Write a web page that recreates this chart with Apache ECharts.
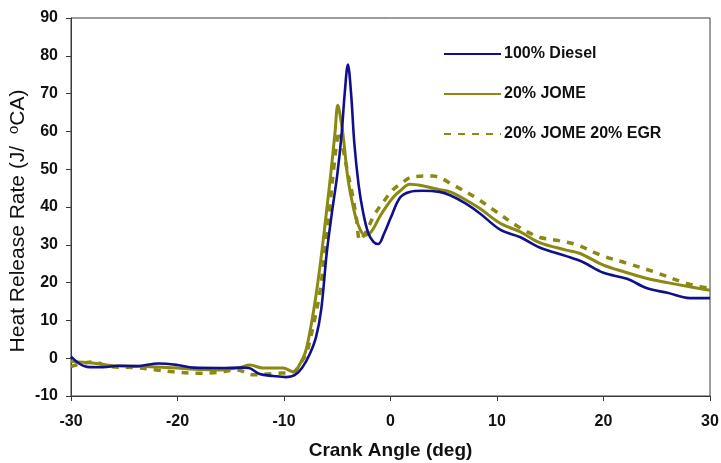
<!DOCTYPE html>
<html>
<head>
<meta charset="utf-8">
<script src="https://cdn.jsdelivr.net/npm/echarts@6/dist/echarts.min.js"></script>
<style>
  html, body { margin: 0; padding: 0; background: #fff; }
  #chart { width: 721px; height: 463px; }
</style>
</head>
<body>
<div id="chart"></div>
<script>
// Crank angle (deg) and heat release rate (J/°CA) for each fuel case
const dieselAngle = [-30, -28.5, -27, -25.5, -23.8, -21.8, -20, -18.5, -16, -14, -13.3, -12.3, -11, -9.8, -9, -8.3, -7.6, -7.0, -6.5, -6.0, -5.5, -5.0, -4.6, -4.3, -4.0, -3.7, -3.4, -3.0, -2.6, -2.1, -1.6, -1.15, -0.6, 0, 0.9, 1.8, 3, 4.6, 5.6, 7, 8.4, 10.3, 12.2, 14, 16.5, 18, 20, 22.2, 24.1, 26, 28.1, 30];
const dieselHRR   = [0.4, -2.3, -2.4, -2.0, -2.1, -1.4, -1.8, -2.5, -2.6, -2.5, -2.6, -4.2, -4.7, -5.0, -4.5, -2.5, 1.0, 5.5, 13, 27.5, 38.5, 48.5, 59, 70, 77.7, 70, 57, 46, 39, 33.2, 30.8, 30.2, 33, 37, 42.5, 44, 44.3, 44, 43.1, 41, 38.3, 34, 32, 29.3, 27, 25.5, 22.6, 21, 18.5, 17.3, 15.9, 15.9];

const jomeAngle = [-30, -28, -26, -24, -22, -20, -18.5, -16, -14.2, -13.2, -12, -10.1, -9.1, -8.5, -8.0, -7.5, -7.0, -6.5, -6.0, -5.6, -5.2, -4.95, -4.6, -4.4, -4.0, -3.5, -3.0, -2.4, -1.8, -1.0, -0.3, 0.3, 1.0, 1.8, 3, 4.6, 5.6, 7, 8.4, 10.3, 12.2, 14, 16.5, 17.8, 20, 22, 24.1, 26, 28.1, 30];
const jomeHRR   = [-0.9, -1.3, -2.0, -2.1, -2.3, -2.6, -2.9, -3.1, -2.5, -1.8, -2.6, -2.6, -3.6, -1.5, 1.5, 8, 16.5, 27, 39, 49, 60, 66.9, 62, 57.7, 47.5, 40, 35, 32.5, 33.5, 37.5, 40.5, 42.7, 44.5, 46.0, 45.6, 44.6, 44, 42, 39.6, 35.7, 33.4, 30.6, 28.6, 27.7, 24.6, 22.8, 21.1, 20, 18.9, 18.0];

const egrAngle = [-30, -28, -26.3, -24, -22, -20.4, -18.2, -16.3, -14.4, -12.9, -10.7, -9.1, -8.5, -7.9, -7.3, -6.6, -6.1, -5.7, -5.3, -5.0, -4.8, -4.5, -4.1, -3.6, -3.2, -2.86, -2.2, -1.5, -0.5, 0.2, 1.0, 2.1, 4.0, 5.9, 8.1, 9.7, 12.0, 14.0, 15.8, 17.5, 19.7, 22.2, 24.7, 27.8, 30];
const egrHRR   = [-2.2, -1.0, -2.2, -2.5, -3.1, -3.6, -4.0, -3.8, -3.1, -4.4, -4.0, -3.6, -1.5, 1.3, 8, 18, 30, 40, 51, 58, 60, 56, 50.2, 43.6, 37, 31.2, 34, 38, 42, 44.5, 46.2, 48.0, 48.2, 45.8, 42.3, 39.2, 34.8, 32, 31.1, 30, 27.3, 25.1, 22.9, 19.8, 18.5];

const seriesNames = ['100% Diesel', '20% JOME', '20% JOME 20% EGR'];
const xTicks = { min: -30, max: 30, step: 10 };
const yTicks = { min: -10, max: 90, step: 10 };

const pairs = (xs, ys) => xs.map((x, i) => [x, ys[i]]);

const navy = '#10108c';
const olive = '#8a8a12';
const axisColor = '#3a3a3a';
const fontFamily = 'Liberation Sans, Arial, sans-serif';

const chart = echarts.init(document.getElementById('chart'));
chart.setOption({
  animation: false,
  backgroundColor: '#fff',
  grid: {
    left: 71, right: 11, top: 18, bottom: 67,
    outerBoundsMode: 'none', containLabel: false,
    show: true, borderColor: axisColor, borderWidth: 1
  },
  legend: {
    orient: 'vertical',
    left: 443, top: 46, padding: 0,
    itemWidth: 57, itemHeight: 14, itemGap: 24,
    itemStyle: { opacity: 0 },
    textStyle: { fontFamily, fontSize: 16, fontWeight: 'bold', color: '#111', padding: [0, 0, 0, -2] },
    data: seriesNames
  },
  xAxis: {
    type: 'value',
    min: xTicks.min, max: xTicks.max, interval: xTicks.step,
    name: 'Crank Angle (deg)',
    nameLocation: 'middle', nameGap: 45, nameMoveOverlap: false,
    nameTextStyle: { fontFamily, fontSize: 19, fontWeight: 'bold', color: '#111' },
    axisLine: { onZero: false, lineStyle: { color: axisColor, width: 1 } },
    axisTick: { length: 5, lineStyle: { color: axisColor } },
    axisLabel: { fontFamily, fontSize: 16, fontWeight: 'bold', color: '#111', margin: 18 },
    splitLine: { show: false }
  },
  yAxis: {
    type: 'value',
    min: yTicks.min, max: yTicks.max, interval: yTicks.step,
    name: 'Heat Release Rate (J/  {sup|o}CA)',
    nameLocation: 'middle', nameGap: 41, nameMoveOverlap: false,
    nameTextStyle: {
      fontFamily, fontSize: 21, color: '#111', lineHeight: 24,
      padding: [0, 28, 0, 0],
      rich: { sup: { fontFamily, fontSize: 15, color: '#111', verticalAlign: 'top', lineHeight: 24, padding: [0, 0, 8, 0] } }
    },
    axisLine: { show: true, onZero: false, lineStyle: { color: axisColor, width: 1 } },
    axisTick: { show: true, length: 5, lineStyle: { color: axisColor } },
    axisLabel: { fontFamily, fontSize: 16, fontWeight: 'bold', color: '#111', margin: 13 },
    splitLine: { show: false }
  },
  series: [
    {
      name: seriesNames[0], type: 'line', data: pairs(dieselAngle, dieselHRR),
      smooth: 0.35, showSymbol: false, symbol: 'none',
      lineStyle: { color: navy, width: 2.6 }, itemStyle: { color: navy }, z: 3
    },
    {
      name: seriesNames[1], type: 'line', data: pairs(jomeAngle, jomeHRR),
      smooth: 0.35, showSymbol: false, symbol: 'none',
      lineStyle: { color: olive, width: 3 }, itemStyle: { color: olive }, z: 2
    },
    {
      name: seriesNames[2], type: 'line', data: pairs(egrAngle, egrHRR),
      smooth: 0.35, showSymbol: false, symbol: 'none',
      lineStyle: { color: olive, width: 3.5, type: [7, 7] }, itemStyle: { color: olive }, z: 1
    }
  ]
});
</script>
</body>
</html>
